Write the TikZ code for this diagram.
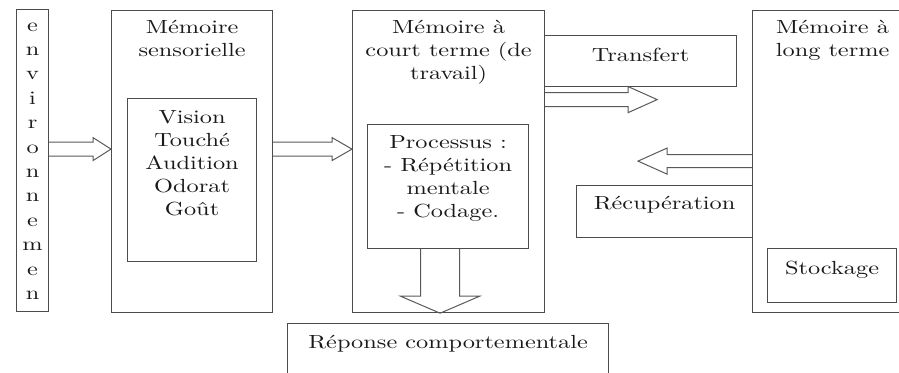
\documentclass[tikz,border=0pt]{standalone}
\usepackage{fontspec}
\newfontfamily\diagfont{lmroman10-regular.otf}[FakeStretch=1.28]
\usetikzlibrary{calc,positioning}

\tikzset{
  box/.style={draw=black!70,line width=1.2pt,anchor=north west,inner sep=0pt},
  title/.style={align=center,inner sep=0pt,text=black!90,font=\fontsize{19}{23}\selectfont\diagfont},
  blockarrow/.style={draw=black!65,line width=1pt,line join=miter}
}

\begin{document}
\begin{tikzpicture}[x=1pt,y=-1pt]
    \useasboundingbox (0,0) rectangle (899,372);
    \clip (0,0) rectangle (899,372);
    % boxes
    \node[box,minimum width=32pt,minimum height=302pt] (env) at (16,9) {};
    \node[box,minimum width=161pt,minimum height=302pt] (sens) at (111,10) {};
    \node[box,minimum width=129pt,minimum height=163pt] (sensin) at (127,98) {};
    \node[box,minimum width=192pt,minimum height=302pt] (stm) at (352,10) {};
    \node[box,minimum width=161pt,minimum height=124pt] (proc) at (367,124) {};
    \node[box,minimum width=192pt,minimum height=51pt] (transf) at (544,35) {};
    \node[box,minimum width=160pt,minimum height=302pt] (ltm) at (752,10) {};
    \node[box,minimum width=129pt,minimum height=54pt] (stock) at (767,248) {};
    \node[box,minimum width=176pt,minimum height=52pt] (recup) at (576,185) {};
    \node[box,minimum width=321pt,minimum height=70pt] (rep) at (287,323) {};
    % texts
    \foreach \l [count=\i] in {e,n,v,i,r,o,n,n,e,m,e,n}
        \node[title,anchor=base] (letter\i) at ($(env.north)+(0,22+24.4*\i-24.4)$) {\l};
    \node[title,below=10.5pt of sens.north] (senstitle) {Mémoire\\sensorielle};
    \node[title,below=12.5pt of sensin.north] (senstext) {Vision\\Touché\\Audition\\Odorat\\Goût};
    \node[title,below=10.5pt of stm.north] (stmtitle) {Mémoire à\\court terme (de\\travail)};
    \node[title,below=11.5pt of proc.north] (proctext) {Processus :\\- Répétition\\mentale\\- Codage.};
    \node[title,below=13pt of transf.north] (transftext) {Transfert};
    \node[title,below=10.5pt of ltm.north] (ltmtitle) {Mémoire à\\long terme};
    \node[title,below=13pt of stock.north] (stocktext) {Stockage};
    \node[title,below=11pt of recup.north] (recuptext) {Récupération};
    \node[title,below=12pt of rep.north] (reptext) {Réponse comportementale};
    % arrows
    \coordinate (envout) at ($(env.east)+(0,-11.5)$);
    \draw[blockarrow] ($(envout)+(0,-7)$) -- ($(sens.west |- envout)+(-18,-7)$) -- ++(0,-4.5)
        -- (sens.west |- envout) -- ($(sens.west |- envout)+(-18,11.5)$) -- ++(0,-4.5) -- ($(envout)+(0,7)$);
    \coordinate (sensout) at (sens.east |- envout);
    \draw[blockarrow] ($(sensout)+(0,-7)$) -- ($(stm.west |- sensout)+(-20,-7)$) -- ++(0,-4.5)
        -- (stm.west |- sensout) -- ($(stm.west |- sensout)+(-20,11.5)$) -- ++(0,-4.5) -- ($(sensout)+(0,7)$);
    \coordinate (stmout) at ($(stm.east)+(0,-62)$);
    \coordinate (transftip) at ($(stmout)+(112,0)$);
    \draw[blockarrow] ($(stmout)+(0,-7)$) -- ($(transftip)+(-29,-7)$) -- ++(0,-6)
        -- (transftip) -- ($(transftip)+(-29,13)$) -- ++(0,-6) -- ($(stmout)+(0,7)$);
    \coordinate (ltmout) at ($(ltm.west)+(0,-0.5)$);
    \coordinate (recuptip) at ($(ltmout)+(-114,0)$);
    \draw[blockarrow] ($(ltmout)+(0,-6.5)$) -- ($(recuptip)+(29,-6.5)$) -- ++(0,-6.5)
        -- (recuptip) -- ($(recuptip)+(29,13)$) -- ++(0,-6.5) -- ($(ltmout)+(0,6.5)$);
    \coordinate (procout) at ($(proc.south)+(-8,0)$);
    \coordinate (downtip) at (procout |- stm.south);
    \draw[blockarrow] ($(procout)+(-19.5,0)$) -- ($(downtip)+(-19.5,-17)$) -- ++(-20,0)
        -- (downtip) -- ($(downtip)+(39.5,-17)$) -- ++(-20,0) -- ($(procout)+(19.5,0)$);
\end{tikzpicture}
\end{document}
